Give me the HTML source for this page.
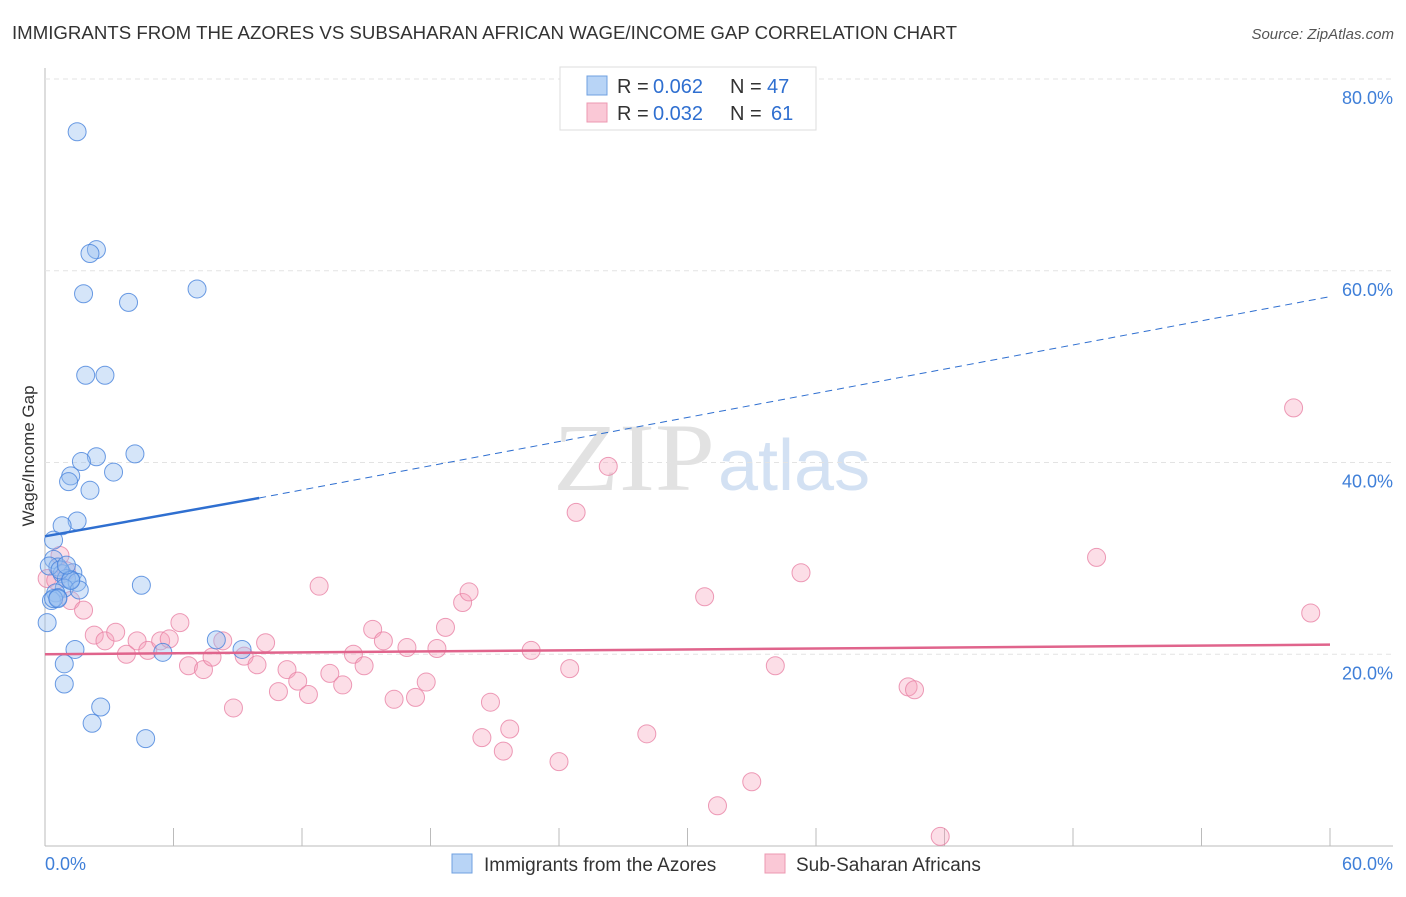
<!DOCTYPE html>
<html><head><meta charset="utf-8"><style>
body{margin:0;background:#fff;font-family:"Liberation Sans",sans-serif;}
</style></head><body>
<svg id="chart" width="1406" height="892" xmlns="http://www.w3.org/2000/svg" font-family="Liberation Sans, sans-serif">
<text x="12" y="39" font-size="18" fill="#333" textLength="945" lengthAdjust="spacingAndGlyphs">IMMIGRANTS FROM THE AZORES VS SUBSAHARAN AFRICAN WAGE/INCOME GAP CORRELATION CHART</text>
<text x="1394" y="39" font-size="15" fill="#555" text-anchor="end" font-style="italic">Source: ZipAtlas.com</text>
<text transform="translate(34,456) rotate(-90)" font-size="17" fill="#333" text-anchor="middle">Wage/Income Gap</text>
<g><text x="553" y="490" font-size="96" fill="#e2e2e2" font-family="Liberation Serif, serif" textLength="162" lengthAdjust="spacingAndGlyphs">ZIP</text><text x="718" y="490" font-size="72" fill="#d3e1f3">atlas</text></g>
<g id="grid"></g><g id="marks"></g>
<g>
<rect x="560" y="67" width="256" height="63" fill="#fff" stroke="#ddd"/>
<rect x="587" y="76" width="20" height="19" fill="#b8d4f6" stroke="#6fa0e0"/>
<rect x="587" y="103" width="20" height="19" fill="#fac8d6" stroke="#ec98b2"/>
<text x="617" y="93" font-size="20" fill="#333">R = </text><text x="653" y="93" font-size="20" fill="#2f6fd0">0.062</text>
<text x="730" y="93" font-size="20" fill="#333">N = </text><text x="767" y="93" font-size="20" fill="#2f6fd0">47</text>
<text x="617" y="120" font-size="20" fill="#333">R = </text><text x="653" y="120" font-size="20" fill="#2f6fd0">0.032</text>
<text x="730" y="120" font-size="20" fill="#333">N = </text><text x="771" y="120" font-size="20" fill="#2f6fd0">61</text>
</g>
<g>
<rect x="452" y="854" width="20" height="19" fill="#b8d4f6" stroke="#6fa0e0"/>
<text x="484" y="871" font-size="19" fill="#333">Immigrants from the Azores</text>
<rect x="765" y="854" width="20" height="19" fill="#fac8d6" stroke="#ec98b2"/>
<text x="796" y="871" font-size="19" fill="#333">Sub-Saharan Africans</text>
</g>
</svg>
<script>
const xTicks=[0,60];
const yTicks=[20,40,60,80];
const blueX=[1.5,2.4,2.1,1.8,3.9,7.1,1.9,2.8,2.4,4.2,1.7,1.2,1.1,3.2,2.1,1.5,0.8,0.4,0.4,0.6,0.8,1.3,1.0,1.2,1.5,0.9,1.6,0.5,0.3,0.6,4.5,0.1,1.4,0.9,0.9,2.6,2.2,4.7,5.5,8.0,9.2,0.2,0.7,0.4,0.6,1.2,1.0];
const blueY=[74.5,62.2,61.8,57.6,56.7,58.1,49.1,49.1,40.6,40.9,40.1,38.6,38.0,39.0,37.1,33.9,33.4,31.9,29.9,29.1,28.4,28.5,27.9,27.8,27.5,26.9,26.7,26.4,25.6,25.9,27.2,23.3,20.5,19.0,16.9,14.5,12.8,11.2,20.2,21.5,20.5,29.2,28.8,25.8,25.8,27.7,29.3];
const pinkX=[0.1,0.5,0.7,1.0,1.2,1.8,2.3,2.8,3.3,3.8,4.3,4.8,5.4,5.8,6.3,6.7,7.4,7.8,8.3,8.8,9.3,9.9,10.3,10.9,11.3,11.8,12.3,12.8,13.3,13.9,14.4,14.9,15.3,15.8,16.3,16.9,17.3,17.8,18.3,18.7,19.5,19.8,20.4,20.8,21.4,21.7,22.7,24.0,24.5,24.8,26.3,28.1,30.8,31.4,33.0,34.1,35.3,40.3,40.6,41.8,49.1,58.3,59.1];
const pinkY=[27.9,27.7,30.3,28.7,25.6,24.6,22.0,21.4,22.3,20.0,21.4,20.4,21.4,21.6,23.3,18.8,18.4,19.7,21.4,14.4,19.8,18.9,21.2,16.1,18.4,17.2,15.8,27.1,18.0,16.8,20.0,18.8,22.6,21.4,15.3,20.7,15.5,17.1,20.6,22.8,25.4,26.5,11.3,15.0,9.9,12.2,20.4,8.8,18.5,34.8,39.6,11.7,26.0,4.2,6.7,18.8,28.5,16.6,16.3,1.0,30.1,45.7,24.3];
const X=v=>45+v/60*1285, Y=v=>846-v/80*767;
const NS='http://www.w3.org/2000/svg';
function mk(t,a,p){const e=document.createElementNS(NS,t);for(const k in a)e.setAttribute(k,a[k]);p.appendChild(e);return e;}
const grid=document.getElementById('grid'), marks=document.getElementById('marks');
mk('line',{x1:45,y1:68,x2:45,y2:846,stroke:'#bbb'},grid);
mk('line',{x1:45,y1:846,x2:1393,y2:846,stroke:'#bbb'},grid);
for(let i=1;i<=10;i++){mk('line',{x1:X(i*6),y1:828,x2:X(i*6),y2:846,stroke:'#bbb'},grid);}
yTicks.forEach(v=>{
 const l=mk('line',{x1:45,y1:Y(v),x2:1393,y2:Y(v),stroke:'#e3e3e3','stroke-dasharray':'5,4'},grid);
 
 
 const t=mk('text',{x:1393,y:Y(v)+25,'font-size':18,fill:'#3f7fd8','text-anchor':'end'},grid);
 t.textContent=v.toFixed(1)+'%';
 
 
});
xTicks.forEach((v,i)=>{
 const t=mk('text',{x:i?1393:45,y:870,'font-size':18,fill:'#3f7fd8','text-anchor':i?'end':'start'},grid);
 t.textContent=v.toFixed(1)+'%';
 
 
});
pinkX.forEach((v,i)=>{
 const c=mk('circle',{cx:X(v),cy:Y(pinkY[i]),r:9,fill:'rgba(245,160,185,0.35)',stroke:'rgba(232,130,165,0.8)','stroke-width':1},marks);
 
 
});
blueX.forEach((v,i)=>{
 const c=mk('circle',{cx:X(v),cy:Y(blueY[i]),r:9,fill:'rgba(150,190,240,0.4)',stroke:'rgba(70,130,220,0.8)','stroke-width':1},marks);
 
 
});
const bl=mk('line',{x1:X(0),y1:Y(32.3),x2:X(10),y2:Y(36.3),stroke:'#2f6fd0','stroke-width':2.5},marks);


const bd=mk('line',{x1:X(10),y1:Y(36.3),x2:X(60),y2:Y(57.3),stroke:'#2f6fd0','stroke-width':1,'stroke-dasharray':'7,5'},marks);


const pl=mk('line',{x1:X(0),y1:Y(20.0),x2:X(60),y2:Y(21.0),stroke:'#e0648c','stroke-width':2.5},marks);


</script>
</body></html>
